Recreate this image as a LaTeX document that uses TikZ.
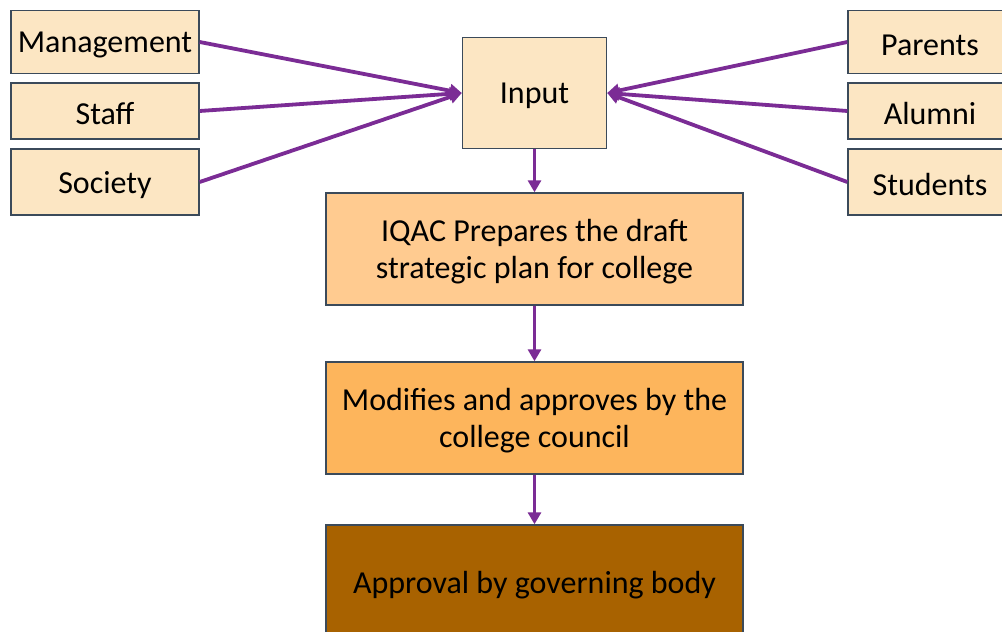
\documentclass[tikz,border=0pt]{standalone}
\usepackage{fontspec}
\setmainfont{Carlito}
\usetikzlibrary{arrows.meta}
\definecolor{boxline}{HTML}{3B4A5A}
\definecolor{lightfill}{HTML}{FCE6C3}
\definecolor{iqacfill}{HTML}{FFCB90}
\definecolor{modfill}{HTML}{FDB55C}
\definecolor{appfill}{HTML}{A86200}
\definecolor{arrowc}{HTML}{7B2C95}
\newcommand{\lowr}[1]{\raisebox{-3bp}[\height][\depth]{#1}}
\newcommand{\twol}[2]{\lowr{\parbox{410bp}{\centering #1\\#2}}}
\begin{document}
\begin{tikzpicture}[x=1bp,y=-1bp,
  every node/.style={font=\fontsize{32bp}{37bp}\selectfont, inner sep=0pt, align=center},
  srcbox/.style={draw=boxline, line width=1.4bp, fill=lightfill, minimum width=#1},
  srcbox/.default=188bp,
  stagebox/.style={draw=boxline, line width=1.4bp, minimum width=417bp, minimum height=112bp},
  flow/.style={draw=arrowc, line width=3.8bp, -{Triangle[length=12bp,width=13bp]}}
]
\useasboundingbox (0,0) rectangle (1002,632);
% left sources
\node[srcbox, minimum height=63bp] (mgmt) at (105,42) {\lowr{Management}};
\node[srcbox, minimum height=56bp] (staff) at (105,111) {\lowr{Staff}};
\node[srcbox, minimum height=66bp] (soc) at (105,182) {\lowr{Society}};
% right sources
\node[srcbox=164bp, minimum height=63bp] (par) at (930,42) {\lowr{Parents}};
\node[srcbox=164bp, minimum height=56bp] (alu) at (930,111) {\lowr{Alumni}};
\node[srcbox=164bp, minimum height=66bp] (stu) at (930,182) {\lowr{Students}};
% input
\node[srcbox=144bp, minimum height=111bp] (inp) at (534.5,93) {\lowr{Input}};
% stages
\node[stagebox, fill=iqacfill] (iqac) at (534.5,249) {\twol{IQAC Prepares the draft}{strategic plan for college}};
\node[stagebox, fill=modfill] (mod) at (534.5,418) {\twol{Modifies and approves by the}{college council}};
\node[stagebox, fill=appfill, minimum height=114bp] (app) at (534.5,582) {\lowr{Approval by governing body}};
% connectors
\draw[flow] (mgmt.east) -- (inp.west);
\draw[flow] (staff.east) -- (inp.west);
\draw[flow] (soc.east) -- (inp.west);
\draw[flow] (par.west) -- (inp.east);
\draw[flow] (alu.west) -- (inp.east);
\draw[flow] (stu.west) -- (inp.east);
\draw[flow] (inp.south) -- (iqac.north);
\draw[flow] (iqac.south) -- (mod.north);
\draw[flow] (mod.south) -- (app.north);
\end{tikzpicture}
\end{document}
